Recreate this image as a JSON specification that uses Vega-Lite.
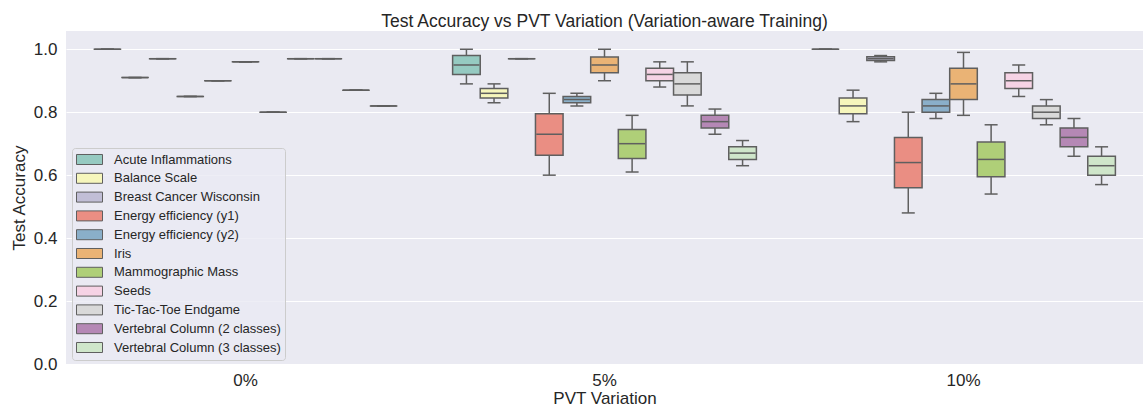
{
  "$schema": "https://vega.github.io/schema/vega-lite/v6.json",
  "width": 1077,
  "height": 333,
  "autosize": {"type": "none"},
  "padding": {"left": 66, "top": 31, "right": 4, "bottom": 44},
  "background": "white",
  "title": {
    "text": "Test Accuracy vs PVT Variation (Variation-aware Training)",
    "font": "Liberation Sans",
    "fontSize": 17.5,
    "fontWeight": "normal",
    "color": "#262626",
    "anchor": "middle",
    "baseline": "alphabetic",
    "frame": "group",
    "offset": 3,
    "dy": 16
  },
  "config": {
    "view": {"fill": "#eaeaf2", "stroke": null},
    "font": "Liberation Sans",
    "axis": {
      "domain": false,
      "ticks": false,
      "tickSize": 0,
      "labelFont": "Liberation Sans",
      "labelFontSize": 17,
      "labelColor": "#262626",
      "titleFont": "Liberation Sans",
      "titleFontSize": 17,
      "titleFontWeight": "normal",
      "titleColor": "#262626"
    },
    "legend": {
      "orient": "none",
      "legendX": 6,
      "legendY": 117,
      "title": null,
      "labelFont": "Liberation Sans",
      "labelFontSize": 13,
      "labelColor": "#262626",
      "labelOffset": 11,
      "labelLimit": 400,
      "symbolType": "M-1,-0.385H1V0.385H-1Z",
      "symbolSize": 676,
      "symbolStrokeColor": "#5f5f5f",
      "symbolStrokeWidth": 1,
      "symbolOpacity": 1,
      "clipHeight": 15,
      "rowPadding": 3.8,
      "padding": 4,
      "fillColor": "rgba(234,234,242,0.8)",
      "strokeColor": "#cccccc",
      "cornerRadius": 3
    }
  },
  "data": {
    "values": [
      {"pvt": "0%", "dataset": "Acute Inflammations", "min": 1.0, "q1": 1.0, "median": 1.0, "q3": 1.0, "max": 1.0},
      {"pvt": "0%", "dataset": "Balance Scale", "min": 0.91, "q1": 0.91, "median": 0.91, "q3": 0.91, "max": 0.91},
      {"pvt": "0%", "dataset": "Breast Cancer Wisconsin", "min": 0.97, "q1": 0.97, "median": 0.97, "q3": 0.97, "max": 0.97},
      {"pvt": "0%", "dataset": "Energy efficiency (y1)", "min": 0.85, "q1": 0.85, "median": 0.85, "q3": 0.85, "max": 0.85},
      {"pvt": "0%", "dataset": "Energy efficiency (y2)", "min": 0.9, "q1": 0.9, "median": 0.9, "q3": 0.9, "max": 0.9},
      {"pvt": "0%", "dataset": "Iris", "min": 0.96, "q1": 0.96, "median": 0.96, "q3": 0.96, "max": 0.96},
      {"pvt": "0%", "dataset": "Mammographic Mass", "min": 0.8, "q1": 0.8, "median": 0.8, "q3": 0.8, "max": 0.8},
      {"pvt": "0%", "dataset": "Seeds", "min": 0.97, "q1": 0.97, "median": 0.97, "q3": 0.97, "max": 0.97},
      {"pvt": "0%", "dataset": "Tic-Tac-Toe Endgame", "min": 0.97, "q1": 0.97, "median": 0.97, "q3": 0.97, "max": 0.97},
      {"pvt": "0%", "dataset": "Vertebral Column (2 classes)", "min": 0.87, "q1": 0.87, "median": 0.87, "q3": 0.87, "max": 0.87},
      {"pvt": "0%", "dataset": "Vertebral Column (3 classes)", "min": 0.82, "q1": 0.82, "median": 0.82, "q3": 0.82, "max": 0.82},

      {"pvt": "5%", "dataset": "Acute Inflammations", "min": 0.89, "q1": 0.92, "median": 0.95, "q3": 0.98, "max": 1.0},
      {"pvt": "5%", "dataset": "Balance Scale", "min": 0.83, "q1": 0.845, "median": 0.86, "q3": 0.875, "max": 0.89},
      {"pvt": "5%", "dataset": "Breast Cancer Wisconsin", "min": 0.97, "q1": 0.97, "median": 0.97, "q3": 0.97, "max": 0.97},
      {"pvt": "5%", "dataset": "Energy efficiency (y1)", "min": 0.6, "q1": 0.663, "median": 0.73, "q3": 0.795, "max": 0.86},
      {"pvt": "5%", "dataset": "Energy efficiency (y2)", "min": 0.82, "q1": 0.83, "median": 0.84, "q3": 0.85, "max": 0.86},
      {"pvt": "5%", "dataset": "Iris", "min": 0.9, "q1": 0.925, "median": 0.95, "q3": 0.975, "max": 1.0},
      {"pvt": "5%", "dataset": "Mammographic Mass", "min": 0.61, "q1": 0.653, "median": 0.7, "q3": 0.745, "max": 0.79},
      {"pvt": "5%", "dataset": "Seeds", "min": 0.88, "q1": 0.9, "median": 0.92, "q3": 0.94, "max": 0.96},
      {"pvt": "5%", "dataset": "Tic-Tac-Toe Endgame", "min": 0.82, "q1": 0.855, "median": 0.89, "q3": 0.925, "max": 0.96},
      {"pvt": "5%", "dataset": "Vertebral Column (2 classes)", "min": 0.73, "q1": 0.75, "median": 0.77, "q3": 0.79, "max": 0.81},
      {"pvt": "5%", "dataset": "Vertebral Column (3 classes)", "min": 0.63, "q1": 0.65, "median": 0.67, "q3": 0.69, "max": 0.71},

      {"pvt": "10%", "dataset": "Acute Inflammations", "min": 1.0, "q1": 1.0, "median": 1.0, "q3": 1.0, "max": 1.0},
      {"pvt": "10%", "dataset": "Balance Scale", "min": 0.77, "q1": 0.795, "median": 0.82, "q3": 0.845, "max": 0.87},
      {"pvt": "10%", "dataset": "Breast Cancer Wisconsin", "min": 0.96, "q1": 0.964, "median": 0.97, "q3": 0.976, "max": 0.98},
      {"pvt": "10%", "dataset": "Energy efficiency (y1)", "min": 0.48, "q1": 0.56, "median": 0.64, "q3": 0.72, "max": 0.8},
      {"pvt": "10%", "dataset": "Energy efficiency (y2)", "min": 0.78, "q1": 0.8, "median": 0.82, "q3": 0.84, "max": 0.86},
      {"pvt": "10%", "dataset": "Iris", "min": 0.79, "q1": 0.84, "median": 0.89, "q3": 0.94, "max": 0.99},
      {"pvt": "10%", "dataset": "Mammographic Mass", "min": 0.54, "q1": 0.595, "median": 0.65, "q3": 0.705, "max": 0.76},
      {"pvt": "10%", "dataset": "Seeds", "min": 0.85, "q1": 0.875, "median": 0.9, "q3": 0.925, "max": 0.95},
      {"pvt": "10%", "dataset": "Tic-Tac-Toe Endgame", "min": 0.76, "q1": 0.78, "median": 0.8, "q3": 0.82, "max": 0.84},
      {"pvt": "10%", "dataset": "Vertebral Column (2 classes)", "min": 0.66, "q1": 0.69, "median": 0.72, "q3": 0.75, "max": 0.78},
      {"pvt": "10%", "dataset": "Vertebral Column (3 classes)", "min": 0.57, "q1": 0.6, "median": 0.63, "q3": 0.66, "max": 0.69}
    ]
  },
  "encoding": {
    "x": {
      "field": "pvt",
      "type": "nominal",
      "sort": ["0%", "5%", "10%"],
      "scale": {"paddingInner": 0, "paddingOuter": 0},
      "axis": {"labelAngle": 0, "labelPadding": 8, "titlePadding": 2, "grid": false},
      "title": "PVT Variation"
    },
    "xOffset": {
      "field": "dataset",
      "type": "nominal",
      "sort": ["Acute Inflammations", "Balance Scale", "Breast Cancer Wisconsin", "Energy efficiency (y1)", "Energy efficiency (y2)", "Iris", "Mammographic Mass", "Seeds", "Tic-Tac-Toe Endgame", "Vertebral Column (2 classes)", "Vertebral Column (3 classes)"],
      "scale": {"paddingInner": 0, "paddingOuter": 1.375}
    }
  },
  "layer": [
    {
      "mark": {"type": "rule", "color": "#5f5f5f", "strokeWidth": 1.5},
      "encoding": {
        "y": {
          "field": "min",
          "type": "quantitative",
          "title": "Test Accuracy",
          "scale": {"domain": [0, 1.058], "nice": false, "zero": false},
          "axis": {"values": [0, 0.2, 0.4, 0.6, 0.8, 1.0], "format": ".1f", "grid": true, "gridColor": "white", "gridWidth": 1, "labelPadding": 9, "titlePadding": 5}
        },
        "y2": {"field": "max"}
      }
    },
    {
      "mark": {"type": "tick", "color": "#5f5f5f", "size": 13, "thickness": 1.5, "opacity": 1},
      "encoding": {"y": {"field": "min", "type": "quantitative", "title": "Test Accuracy"}}
    },
    {
      "mark": {"type": "tick", "color": "#5f5f5f", "size": 13, "thickness": 1.5, "opacity": 1},
      "encoding": {"y": {"field": "max", "type": "quantitative", "title": "Test Accuracy"}}
    },
    {
      "mark": {"type": "bar", "stroke": "#5f5f5f", "strokeWidth": 1.5, "opacity": 1},
      "encoding": {
        "y": {"field": "q1", "type": "quantitative", "title": "Test Accuracy"},
        "y2": {"field": "q3"},
        "fill": {
          "field": "dataset",
          "type": "nominal",
          "sort": ["Acute Inflammations", "Balance Scale", "Breast Cancer Wisconsin", "Energy efficiency (y1)", "Energy efficiency (y2)", "Iris", "Mammographic Mass", "Seeds", "Tic-Tac-Toe Endgame", "Vertebral Column (2 classes)", "Vertebral Column (3 classes)"],
          "scale": {
            "domain": ["Acute Inflammations", "Balance Scale", "Breast Cancer Wisconsin", "Energy efficiency (y1)", "Energy efficiency (y2)", "Iris", "Mammographic Mass", "Seeds", "Tic-Tac-Toe Endgame", "Vertebral Column (2 classes)", "Vertebral Column (3 classes)"],
            "range": ["#96cac1", "#f6f6bc", "#c1bed6", "#ea8e83", "#8aafc9", "#eab375", "#afcf78", "#f6d3e5", "#d9d9d9", "#b588b5", "#cfe6ca"]
          }
        }
      }
    },
    {
      "mark": {"type": "tick", "color": "#5f5f5f", "size": 26, "thickness": 1.5, "opacity": 1},
      "encoding": {"y": {"field": "median", "type": "quantitative", "title": "Test Accuracy"}}
    }
  ]
}
